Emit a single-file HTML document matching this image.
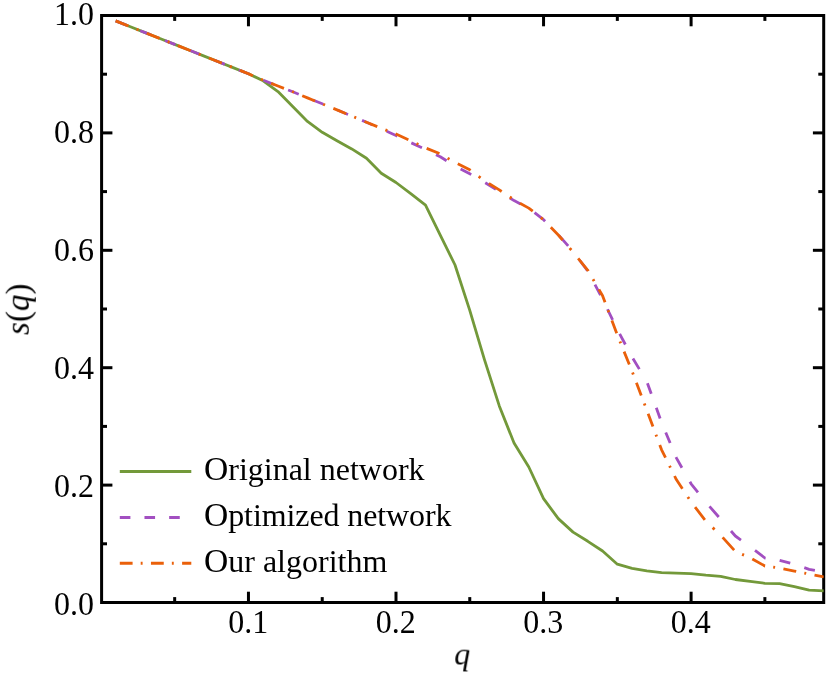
<!DOCTYPE html>
<html><head><meta charset="utf-8"><title>s(q)</title>
<style>
html,body{margin:0;padding:0;background:#fff;}
body{width:830px;height:674px;overflow:hidden;font-family:"Liberation Serif",serif;}
svg{display:block;will-change:transform;}
text{font-family:"Liberation Serif",serif;font-size:32px;fill:#000;}
</style></head><body>
<svg width="830" height="674" viewBox="0 0 830 674">
<rect width="830" height="674" fill="#fff"/>
<defs><clipPath id="ax"><rect x="101.6" y="15.5" width="722.1" height="587.0"/></clipPath></defs>
<g stroke="#000" stroke-width="3" fill="none">
<line x1="248.45" y1="602.50" x2="248.45" y2="591.70"/>
<line x1="248.45" y1="15.50" x2="248.45" y2="26.30"/>
<line x1="396.00" y1="602.50" x2="396.00" y2="591.70"/>
<line x1="396.00" y1="15.50" x2="396.00" y2="26.30"/>
<line x1="543.55" y1="602.50" x2="543.55" y2="591.70"/>
<line x1="543.55" y1="15.50" x2="543.55" y2="26.30"/>
<line x1="691.10" y1="602.50" x2="691.10" y2="591.70"/>
<line x1="691.10" y1="15.50" x2="691.10" y2="26.30"/>
<line x1="174.68" y1="602.50" x2="174.68" y2="597.10"/>
<line x1="174.68" y1="15.50" x2="174.68" y2="20.90"/>
<line x1="322.23" y1="602.50" x2="322.23" y2="597.10"/>
<line x1="322.23" y1="15.50" x2="322.23" y2="20.90"/>
<line x1="469.77" y1="602.50" x2="469.77" y2="597.10"/>
<line x1="469.77" y1="15.50" x2="469.77" y2="20.90"/>
<line x1="617.33" y1="602.50" x2="617.33" y2="597.10"/>
<line x1="617.33" y1="15.50" x2="617.33" y2="20.90"/>
<line x1="764.88" y1="602.50" x2="764.88" y2="597.10"/>
<line x1="764.88" y1="15.50" x2="764.88" y2="20.90"/>
<line x1="101.60" y1="602.50" x2="112.40" y2="602.50"/>
<line x1="823.70" y1="602.50" x2="812.90" y2="602.50"/>
<line x1="101.60" y1="485.10" x2="112.40" y2="485.10"/>
<line x1="823.70" y1="485.10" x2="812.90" y2="485.10"/>
<line x1="101.60" y1="367.70" x2="112.40" y2="367.70"/>
<line x1="823.70" y1="367.70" x2="812.90" y2="367.70"/>
<line x1="101.60" y1="250.30" x2="112.40" y2="250.30"/>
<line x1="823.70" y1="250.30" x2="812.90" y2="250.30"/>
<line x1="101.60" y1="132.90" x2="112.40" y2="132.90"/>
<line x1="823.70" y1="132.90" x2="812.90" y2="132.90"/>
<line x1="101.60" y1="15.50" x2="112.40" y2="15.50"/>
<line x1="823.70" y1="15.50" x2="812.90" y2="15.50"/>
<line x1="101.60" y1="543.80" x2="107.00" y2="543.80"/>
<line x1="823.70" y1="543.80" x2="818.30" y2="543.80"/>
<line x1="101.60" y1="426.40" x2="107.00" y2="426.40"/>
<line x1="823.70" y1="426.40" x2="818.30" y2="426.40"/>
<line x1="101.60" y1="309.00" x2="107.00" y2="309.00"/>
<line x1="823.70" y1="309.00" x2="818.30" y2="309.00"/>
<line x1="101.60" y1="191.60" x2="107.00" y2="191.60"/>
<line x1="823.70" y1="191.60" x2="818.30" y2="191.60"/>
<line x1="101.60" y1="74.20" x2="107.00" y2="74.20"/>
<line x1="823.70" y1="74.20" x2="818.30" y2="74.20"/>
<rect x="101.6" y="15.5" width="722.1" height="587.0"/>
</g>
<g clip-path="url(#ax)" fill="none" stroke-width="2.8" stroke-linejoin="round">
<polyline stroke="#73993a" points="115.66,20.90 130.41,26.77 145.17,32.64 159.92,38.52 174.68,44.39 189.43,50.26 204.19,56.13 218.94,62.01 233.69,67.88 248.45,73.75 263.21,80.80 277.96,91.60 292.72,106.60 307.47,121.40 322.23,132.30 336.98,140.80 351.74,148.90 366.49,158.30 381.25,173.20 396.00,182.50 410.75,193.70 425.51,205.10 440.26,235.10 455.02,265.00 469.77,310.40 484.53,359.80 499.29,405.90 514.04,443.00 528.79,467.00 543.55,498.70 558.30,518.60 573.06,532.10 587.82,541.30 602.57,551.00 617.32,564.20 632.08,568.30 646.83,570.80 661.59,572.70 676.35,573.20 691.10,573.70 705.85,575.20 720.61,576.30 735.37,579.50 750.12,581.40 764.88,583.30 779.63,583.60 794.38,586.60 809.14,590.20 823.89,590.80"/>
<path stroke="#a24fc1" d="M115.66,20.90 L126.25,25.12 M140.30,30.71 L145.17,32.64 L150.90,34.92 M164.94,40.51 L174.68,44.39 L175.53,44.73 M189.57,50.32 L200.18,54.54 M214.22,60.13 L218.94,62.01 L224.81,64.34 M238.85,69.93 L248.45,73.75 L249.45,74.19 M263.50,80.31 L274.09,84.48 M288.13,90.00 L292.72,91.80 L298.73,94.29 M312.77,100.02 L322.23,103.80 L323.37,104.28 M337.41,110.08 L348.01,114.46 M362.05,120.41 L366.49,122.30 L372.65,124.97 M386.69,131.21 L396.00,135.50 L397.29,136.12 M411.33,142.87 L421.94,147.75 M435.98,154.65 L440.26,156.80 L446.58,160.78 M460.62,169.02 L469.77,173.80 L471.22,174.63 M485.26,182.75 L495.86,189.36 M509.90,198.04 L514.04,200.60 L520.50,203.88 M534.54,212.61 L543.55,219.70 L545.11,221.29 M558.85,235.33 L568.16,245.93 M579.47,259.97 L587.49,270.57 M594.96,284.61 L600.52,295.21 M607.49,309.25 L612.64,319.85 M619.67,333.89 L625.34,344.49 M632.94,358.53 L639.35,369.13 M647.43,383.17 L651.25,393.77 M656.30,407.81 L660.12,418.41 M665.74,432.45 L670.15,443.05 M676.01,457.09 L676.35,457.90 L681.92,467.69 M689.92,481.73 L691.10,483.80 L697.94,492.33 M709.49,506.37 L718.75,516.97 M731.00,531.01 L735.37,536.00 L740.97,540.03 M755.01,550.38 L764.88,558.00 L765.61,558.12 M779.65,560.41 L790.25,563.21 M804.29,567.66 L809.14,569.30 L814.89,570.39"/>
<path stroke="#ea600a" d="M115.66,20.90 L128.46,25.99 M136.56,29.22 L138.45,29.97 M146.75,33.28 L159.56,38.37 M167.66,41.60 L169.56,42.35 M177.86,45.65 L189.43,50.26 L190.66,50.75 M198.75,53.97 L200.66,54.73 M208.95,58.03 L218.94,62.01 L221.75,63.13 M229.85,66.35 L231.75,67.11 M240.06,70.41 L248.45,73.75 L252.85,75.68 M260.95,79.22 L262.86,80.05 M271.15,83.33 L277.96,86.00 L283.96,88.36 M292.06,91.54 L292.72,91.80 L293.96,92.31 M302.25,95.74 L307.47,97.90 L315.06,100.93 M323.16,104.18 L325.06,104.97 M333.36,108.40 L336.98,109.90 L346.16,113.69 M354.26,117.08 L356.16,117.89 M364.46,121.43 L366.49,122.30 L377.26,126.60 M385.36,129.84 L387.26,130.60 M395.56,133.92 L396.00,134.10 L408.36,139.79 M416.46,143.60 L418.36,144.51 M426.66,148.36 L439.46,153.48 M447.56,158.10 L449.46,159.22 M457.76,163.85 L469.77,169.80 L470.56,170.39 M478.66,176.48 L480.56,177.91 M488.86,183.54 L499.29,189.90 L501.66,191.51 M509.76,197.00 L511.66,198.28 M519.96,203.19 L528.79,208.10 L532.76,211.21 M540.86,217.58 L542.76,219.07 M550.79,227.21 L558.30,235.00 L562.65,240.01 M569.68,248.11 L571.33,250.01 M578.14,258.31 L587.82,270.30 L588.28,271.11 M592.99,279.21 L594.09,281.11 M598.91,289.41 L602.57,295.70 L605.01,302.21 M608.05,310.31 L608.77,312.21 M611.88,320.51 L616.69,333.31 M619.94,341.41 L620.71,343.31 M624.09,351.61 L629.31,364.41 M632.57,372.51 L633.29,374.41 M636.42,382.70 L641.25,395.50 M644.31,403.60 L645.03,405.50 M648.14,413.80 L652.93,426.60 M655.95,434.70 L656.66,436.60 M659.76,444.90 L661.59,449.80 L665.50,457.70 M669.51,465.80 L670.46,467.70 M674.56,476.00 L676.35,479.60 L682.44,488.80 M687.80,496.90 L689.05,498.80 M695.08,507.10 L704.86,519.90 M712.66,527.61 L714.56,529.40 M722.63,537.35 L734.15,550.15 M742.11,554.34 L744.01,555.13 M752.31,558.93 L764.88,566.00 L765.11,566.03 M773.21,567.19 L775.11,567.46 M783.41,568.87 L794.38,571.10 L796.21,571.46 M804.31,573.05 L806.21,573.43 M814.51,575.02 L823.89,576.80"/>
</g>
<g opacity="0.999">
<text transform="translate(228.30,633.2) scale(1,1.03)">0.1</text>
<text transform="translate(375.80,633.2) scale(1,1.03)">0.2</text>
<text transform="translate(523.30,633.2) scale(1,1.03)">0.3</text>
<text transform="translate(670.80,633.2) scale(1,1.03)">0.4</text>
<text transform="translate(94.1,614.70) scale(1,1.03)" text-anchor="end">0.0</text>
<text transform="translate(94.1,496.60) scale(1,1.03)" text-anchor="end">0.2</text>
<text transform="translate(94.1,378.60) scale(1,1.03)" text-anchor="end">0.4</text>
<text transform="translate(94.1,261.30) scale(1,1.03)" text-anchor="end">0.6</text>
<text transform="translate(94.1,143.35) scale(1,1.03)" text-anchor="end">0.8</text>
<text transform="translate(94.1,25.30) scale(1,1.03)" text-anchor="end">1.0</text>
<text transform="translate(454.25,664.5) scale(1,0.99)" font-style="italic">q</text>
<text transform="translate(28.7,309.3) rotate(-90) scale(1,1.03)" text-anchor="middle" style="font-size:33px"><tspan font-style="italic">s</tspan>(<tspan font-style="italic">q</tspan>)</text>
</g>
<g fill="none" stroke-width="3">
<line x1="119.8" y1="471.5" x2="191.3" y2="471.5" stroke="#73993a"/>
<line x1="119.8" y1="517.4" x2="191.3" y2="517.4" stroke="#a24fc1" stroke-dasharray="10.6 14.08"/>
<line x1="119.8" y1="563.2" x2="191.3" y2="563.2" stroke="#ea600a" stroke-dasharray="12.8 8.1 1.9 8.35"/>
</g>
<g opacity="0.999">
<text transform="translate(204.0,480.0) scale(1,0.98)"><tspan style="font-size:33.6px">O</tspan>riginal network</text>
<text transform="translate(204.0,525.95) scale(1,0.98)" style="letter-spacing:-0.09px"><tspan style="font-size:33.6px">O</tspan>ptimized network</text>
<text transform="translate(204.0,571.9) scale(1,0.98)"><tspan style="font-size:33.6px">O</tspan>ur algorithm</text>
</g>
</svg>
</body></html>
